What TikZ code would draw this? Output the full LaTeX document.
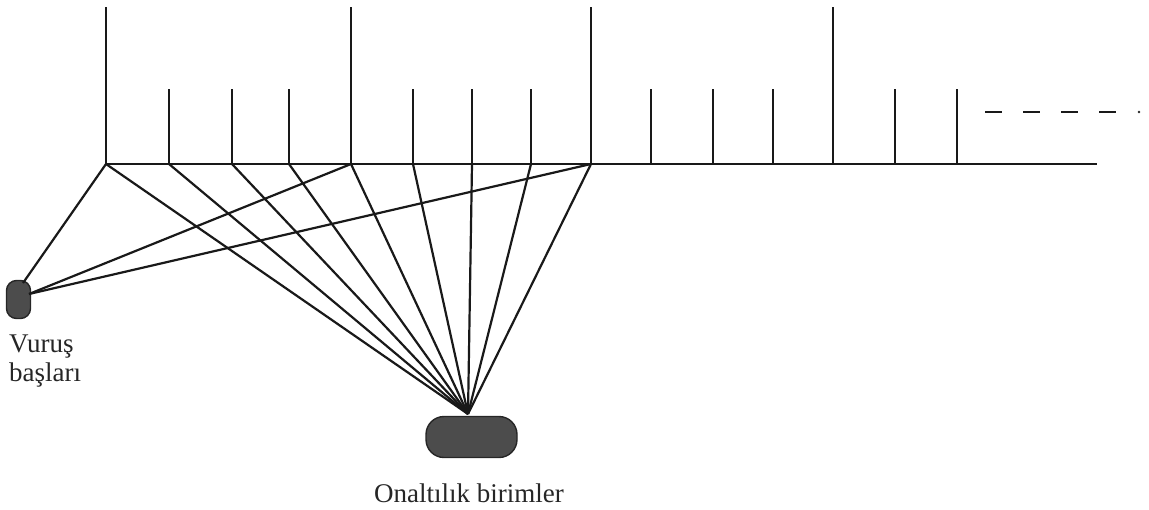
\documentclass[tikz,border=0pt]{standalone}
\usepackage{fontspec}
\setmainfont{Liberation Serif}
\begin{document}
\begin{tikzpicture}[x=1pt,y=-1pt,
  ln/.style={line width=2.2pt,draw=black!90},
  blob/.style={draw=black!85,line width=1.4pt,fill=black!70,inner sep=0pt},
  lbl/.style={text=black!85,font=\fontsize{27}{29}\selectfont,inner sep=0pt}]
\useasboundingbox (0,0) rectangle (1149,509);
% base points
\foreach \n/\x in {a/106,b/169,c/232,d/289,e/351,f/413,g/472,h/531,i/591,j/651,k/713,l/773,m/833,n/895,o/957}
  \coordinate (\n) at (\x,164);
\coordinate (endb) at (1097,164);
\draw[ln] (a) -- (endb);
% tall ticks
\foreach \n in {a,e,i,m} \draw[ln] (\n) -- ++(0,-157);
% short ticks
\foreach \n in {b,c,d,f,g,h,j,k,l,n,o} \draw[ln] (\n) -- ++(0,-75);
% dashed continuation
\coordinate (ds) at (985,112);
\coordinate (de) at (1118,112);
\draw[ln,dash pattern=on 17pt off 21pt] (ds) -- (de);
\fill[black!85] (1139,112) circle (1.4pt);
% blobs
\node[blob,rounded corners=10pt,minimum width=24pt,minimum height=38pt] (vb) at (18.5,299.5) {};
\node[blob,rounded corners=18pt,minimum width=91pt,minimum height=41pt] (ob) at (471.5,437) {};
\coordinate (vt) at (23,283);
\coordinate (vr) at (29,294);
\coordinate (ot) at (468,414);
% lines to left blob
\draw[ln] (a) -- (vt);
\draw[ln] (e) -- (vr);
\draw[ln] (i) -- (vr);
% lines to bottom blob
\foreach \n in {a,b,c,d,e,f,g,h,i} \draw[ln] (\n) -- (ot);
% labels
\node[lbl,anchor=base west,align=left] (vl) at (9,352) {Vuruş};
\node[lbl,anchor=base west] (vl2) at (9,381) {başları};
\node[lbl,anchor=base west] (ol) at (374,502) {Onaltılık birimler};
\end{tikzpicture}
\end{document}
